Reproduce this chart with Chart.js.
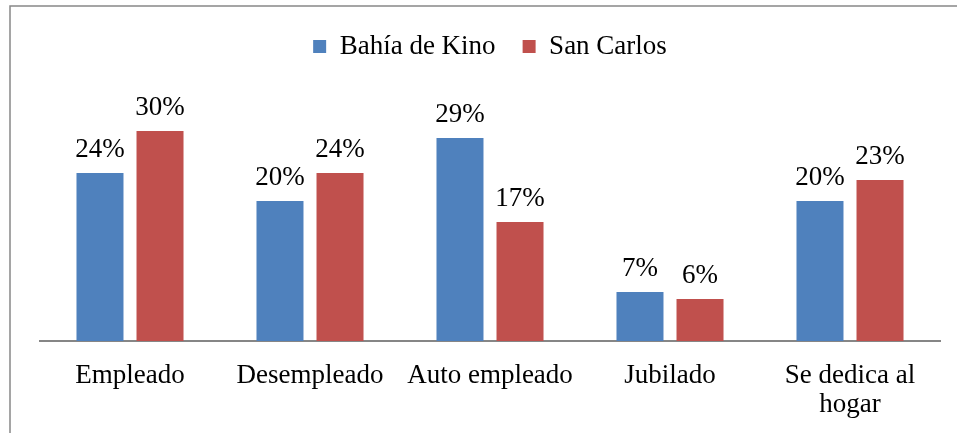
<!DOCTYPE html>
<html>
<head>
<meta charset="utf-8">
<script src="https://cdn.jsdelivr.net/npm/chart.js@4.4.1/dist/chart.umd.min.js"></script>
<style>
  html, body { margin: 0; padding: 0; background: #ffffff; }
  #wrap { width: 957px; height: 433px; position: relative; }
</style>
</head>
<body>
<div id="wrap"><canvas id="chart" width="957" height="433"></canvas></div>
<script>
// Occupation categories and percentage per community
const categories = ["Empleado", "Desempleado", "Auto empleado", "Jubilado", ["Se dedica al", "hogar"]];
const bahiaDeKino = [24, 20, 29, 7, 20];
const sanCarlos = [30, 24, 17, 6, 23];
const seriesNames = ["Bahía de Kino", "San Carlos"];

const FONT = '"Times New Roman", "Liberation Serif", Tinos, serif';
const FONT_SIZE = 27;

// Outer frame of the figure
const framePlugin = {
  id: 'frame',
  beforeDraw(chart) {
    const ctx = chart.ctx;
    ctx.save();
    ctx.fillStyle = '#ffffff';
    ctx.fillRect(0, 0, chart.width, chart.height);
    ctx.strokeStyle = '#888888';
    ctx.lineWidth = 1.5;
    ctx.strokeRect(10, 6, chart.width + 20, chart.height + 20);
    ctx.restore();
  }
};

// Percentage labels above each bar
const valueLabels = {
  id: 'valueLabels',
  afterDatasetsDraw(chart) {
    const ctx = chart.ctx;
    ctx.save();
    ctx.font = FONT_SIZE + 'px ' + FONT;
    ctx.fillStyle = '#000000';
    ctx.textAlign = 'center';
    ctx.textBaseline = 'alphabetic';
    chart.data.datasets.forEach((ds, i) => {
      const meta = chart.getDatasetMeta(i);
      meta.data.forEach((bar, j) => {
        ctx.fillText(ds.data[j] + '%', bar.x, bar.y - 16);
      });
    });
    ctx.restore();
  }
};

new Chart(document.getElementById('chart'), {
  type: 'bar',
  data: {
    labels: categories,
    datasets: [
      { label: seriesNames[0], data: bahiaDeKino, backgroundColor: '#4F81BD',
        categoryPercentage: 0.667, barPercentage: 0.783 },
      { label: seriesNames[1], data: sanCarlos, backgroundColor: '#C0504D',
        categoryPercentage: 0.667, barPercentage: 0.783 }
    ]
  },
  options: {
    responsive: false,
    animation: false,
    devicePixelRatio: 1,
    layout: { padding: { left: 40, right: 17, top: 6, bottom: -6 } },
    plugins: {
      legend: {
        position: 'top',
        labels: {
          font: { family: FONT, size: FONT_SIZE },
          color: '#000000',
          boxWidth: 13,
          boxHeight: 13,
          padding: 27
        }
      },
      tooltip: { enabled: false },
      title: { display: false }
    },
    scales: {
      x: {
        grid: { display: false, drawTicks: false },
        border: { display: true, color: '#868686', width: 2 },
        ticks: {
          font: { family: FONT, size: FONT_SIZE, lineHeight: 1.075 },
          color: '#000000',
          padding: 20,
          maxRotation: 0,
          autoSkip: false
        }
      },
      y: {
        display: false,
        min: 0,
        max: 38.7
      }
    }
  },
  plugins: [framePlugin, valueLabels]
});
</script>
</body>
</html>
